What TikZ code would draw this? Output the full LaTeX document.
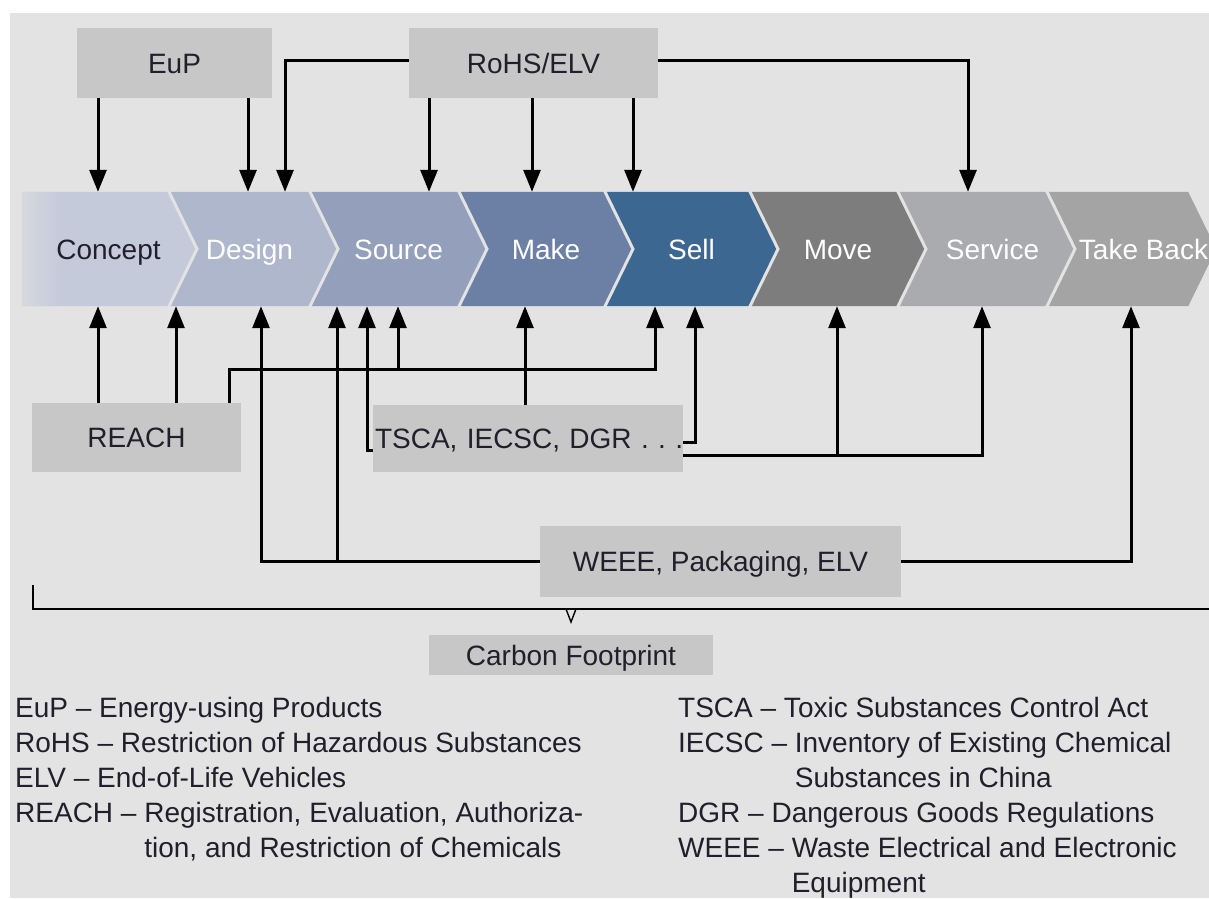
\documentclass[tikz,border=0pt]{standalone}
\usepackage{fontspec}
\setmainfont{Liberation Sans}
\usetikzlibrary{arrows.meta,backgrounds,fadings}

\definecolor{bgc}{RGB}{227,227,227}
\definecolor{boxc}{RGB}{199,199,199}
\definecolor{inkc}{RGB}{32,32,44}
\definecolor{cConcept}{RGB}{197,202,218}
\definecolor{cDesign}{RGB}{174,183,204}
\definecolor{cSource}{RGB}{147,159,187}
\definecolor{cMake}{RGB}{108,128,166}
\definecolor{cSell}{RGB}{59,103,145}
\definecolor{cMove}{RGB}{125,125,125}
\definecolor{cService}{RGB}{169,171,175}
\definecolor{cTake}{RGB}{164,164,164}

% filled chevron behind a stage node (notch on the left, point on the right)
\newcommand\stagefill[2]{%
  \fill[#2] (#1.north west) -- ([xshift=-28pt]#1.north east) -- (#1.east)
    -- ([xshift=-28pt]#1.south east) -- (#1.south west)
    -- ([xshift=28pt]#1.west) -- cycle;}

\begin{document}
\begin{tikzpicture}[x=1pt,y=-1pt,
  every node/.style={font=\fontsize{28}{35}\selectfont, inner sep=0pt},
  stage/.style={minimum height=114pt, text=white, text height=20pt, text depth=0pt},
  regbox/.style={fill=boxc, text=inkc, text height=20pt, text depth=0pt},
  arr/.style={line width=3pt, line join=miter, -{Triangle[width=17pt,length=22pt]}},
  brace/.style={line width=1.4pt, line join=miter},
  legend/.style={text=inkc, align=left, anchor=north west}]

\useasboundingbox (0,0) rectangle (1209,898);

% process stages
\node[stage, minimum width=173pt, text=inkc] (concept) at (108.5,249) {Concept};
\node[stage, minimum width=165pt] (design)   at (253.5,249) {Design\hspace*{8pt}};
\node[stage, minimum width=173pt] (source)   at (398.5,249) {Source};
\node[stage, minimum width=170pt] (make)     at (546,249)   {Make};
\node[stage, minimum width=169pt] (sell)     at (691.5,249) {Sell};
\node[stage, minimum width=172pt] (move)     at (838,249)   {Move};
\node[stage, minimum width=173pt] (service)  at (986.5,249) {\hspace*{12pt}Service};
\node[stage, minimum width=167pt] (takeback) at (1132.5,249) {\hspace*{22pt}Take Back};

% regulation boxes
\node[regbox, minimum width=195pt, minimum height=70pt] (eup)  at (174.5,63) {EuP};
\node[regbox, minimum width=249pt, minimum height=70pt] (rohs) at (533.5,63) {RoHS/ELV};
\node[regbox, minimum width=209pt, minimum height=69pt] (reach) at (136.5,437.5) {REACH};
\node[regbox, minimum height=67pt, text width=306pt, inner xsep=2pt, align=left] (tsca) at (528,438.5) {\mbox{TSCA, IECSC, DGR .\ .\ .}};
\node[regbox, minimum width=361pt, minimum height=71pt] (weee) at (720.5,561.5) {WEEE, Packaging, ELV};
\node[regbox, minimum width=284pt, minimum height=40pt] (carbon) at (571,655) {Carbon Footprint};

% legend
\node[legend] (legl) at (15,697) {EuP – Energy-using Products\\
RoHS – Restriction of Hazardous Substances\\
ELV – End-of-Life Vehicles\\
REACH – Registration, Evaluation, Authoriza-\\
\hphantom{REACH – }tion, and Restriction of Chemicals};
\node[legend] (legr) at (678,697) {TSCA – Toxic Substances Control Act\\
IECSC – Inventory of Existing Chemical\\
\hphantom{IECSC – }Substances in China\\
DGR – Dangerous Goods Regulations\\
WEEE – Waste Electrical and Electronic\\
\hphantom{WEEE – }Equipment};

% background and chevrons
\begin{scope}[on background layer]
  \fill[white] (0,0) rectangle (1209,898);
  \fill[bgc] (10,13) rectangle (1209,898);
  \fill[cConcept] (concept.north west) -- ([xshift=-28pt]concept.north east)
    -- (concept.east) -- ([xshift=-28pt]concept.south east)
    -- (concept.south west) -- cycle;
  % soft left end of the first stage
  \fill[bgc, fill opacity=0.6, path fading=east]
    (concept.north west) rectangle ([xshift=40pt]concept.south west);
  \stagefill{design}{cDesign}
  \stagefill{source}{cSource}
  \stagefill{make}{cMake}
  \stagefill{sell}{cSell}
  \stagefill{move}{cMove}
  \stagefill{service}{cService}
  \stagefill{takeback}{cTake}
\end{scope}

% x positions of the arrows above the stages
\coordinate (t1) at (98,0);
\coordinate (t2) at (248,0);
\coordinate (t3) at (285,0);
\coordinate (t4) at (429,0);
\coordinate (t5) at (532,0);
\coordinate (t6) at (633,0);
\coordinate (t7) at (968,0);
% x positions of the arrows below the stages
\coordinate (b1) at (98,0);
\coordinate (b2) at (176,0);
\coordinate (b3) at (229,0);
\coordinate (b4) at (261,0);
\coordinate (b5) at (337,0);
\coordinate (b7) at (398,0);
\coordinate (b8) at (525,0);
\coordinate (b11) at (837,0);
\coordinate (b13) at (1131,0);
% bus lines
\coordinate (rbus) at (655,369);
\coordinate (tsl) at (367,450);
\coordinate (tsr1) at (695,442);
\coordinate (tsr2) at (982,455);
\coordinate (rw) at ([yshift=3pt]rohs.west);
\coordinate (re) at ([yshift=3pt]rohs.east);

% EuP
\draw[arr] (eup.south -| t1) -- (concept.north -| t1);
\draw[arr] (eup.south -| t2) -- (design.north -| t2);
% RoHS/ELV
\draw[arr] (rw) -- (rw -| t3) -- (design.north -| t3);
\draw[arr] (rohs.south -| t4) -- (source.north -| t4);
\draw[arr] (rohs.south -| t5) -- (make.north -| t5);
\draw[arr] (rohs.south -| t6) -- (sell.north -| t6);
\draw[arr] (re) -- (re -| t7) -- (service.north -| t7);

% REACH
\draw[arr] (reach.north -| b1) -- (concept.south -| b1);
\draw[arr] (reach.north -| b2) -- (design.south -| b2);
\draw[arr] (reach.north -| b3) -- (rbus -| b3) -- (rbus) -- (sell.south -| rbus);
\draw[arr] (rbus -| b7) -- (source.south -| b7);

% TSCA, IECSC, DGR
\draw[arr] (tsca.west |- tsl) -- (tsl) -- (source.south -| tsl);
\draw[arr] (tsca.north -| b8) -- (make.south -| b8);
\draw[arr] (tsca.east |- tsr1) -- (tsr1) -- (sell.south -| tsr1);
\draw[arr] (tsca.east |- tsr2) -- (tsr2) -- (service.south -| tsr2);
\draw[arr] (tsr2 -| b11) -- (move.south -| b11);

% WEEE, Packaging, ELV
\draw[arr] (weee.west) -- (weee.west -| b4) -- (design.south -| b4);
\draw[arr] (weee.west -| b5) -- (source.south -| b5);
\draw[arr] (weee.east) -- (weee.east -| b13) -- (takeback.south -| b13);

% carbon footprint bracket
\coordinate (brL) at (33,585);
\coordinate (brR) at (1209,609);
\coordinate (brT) at (carbon.north |- brR);
\draw[brace] (brL) |- (brR);
\draw[brace] ([xshift=-5pt]brT) -- ([yshift=-13pt]brT) -- ([xshift=5pt]brT);

\end{tikzpicture}
\end{document}
